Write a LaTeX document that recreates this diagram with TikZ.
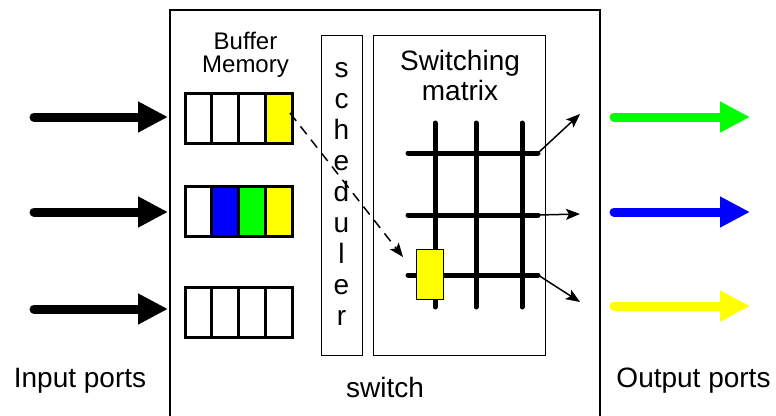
\documentclass[tikz,border=0pt]{standalone}
\usepackage{fontspec}
\setmainfont{Liberation Sans}
\usetikzlibrary{arrows.meta}
\definecolor{pgreen}{RGB}{0,255,0}
\definecolor{pblue}{RGB}{0,0,255}
\definecolor{pyellow}{RGB}{255,255,0}
\tikzset{
  bigtxt/.style={font=\fontsize{28}{30}\selectfont, inner sep=0pt, anchor=base},
  midtxt/.style={font=\fontsize{24}{26}\selectfont, inner sep=0pt, anchor=base},
  cell/.style={draw, line width=3pt, minimum width=26.75pt, minimum height=50pt, inner sep=0pt},
  thinbox/.style={draw, line width=1pt, inner sep=0pt},
  fatarrow/.style={line width=9pt, line cap=round, -{Triangle[length=30pt,width=29pt]}},
  gridline/.style={line width=5pt, line cap=round},
  smallarrow/.style={line width=1.5pt, -{Stealth[length=14pt,width=11pt,inset=3pt]}},
}
\begin{document}
\begin{tikzpicture}[x=1pt,y=-1pt]
\fill[white] (0,0) rectangle (776,415);
\useasboundingbox (0,0) rectangle (776,415);

% switch outline
\coordinate (swbl) at (170,416);
\coordinate (swtl) at (170,10);
\coordinate (swtr) at (600,10);
\coordinate (swbr) at (600,416);
\draw[line width=1.5pt] (swbl) -- (swtl) -- (swtr) -- (swbr);

% input arrows
\foreach \y [count=\i] in {117,212,309} {
  \coordinate (ins\i) at (34,\y);
  \coordinate (ine\i) at (168,\y);
  \draw[fatarrow, black] (ins\i) -- (ine\i);
}
% output arrows
\foreach \y/\c [count=\i] in {117/pgreen,212/pblue,306/pyellow} {
  \coordinate (outs\i) at (614,\y);
  \coordinate (oute\i) at (750,\y);
  \draw[fatarrow, draw=\c, fill=\c] (outs\i) -- (oute\i);
}

% labels
\node[bigtxt] (inlbl) at (80,387) {Input ports};
\node[bigtxt] (outlbl) at (693.5,387) {Output ports};
\node[bigtxt] (swlbl) at (385,397) {switch};
\node[midtxt] (buf1) at (245.5,49) {Buffer};
\node[midtxt] (buf2) at (245.5,72) {Memory};

% buffers
\foreach \yc [count=\r] in {118,211,312} {
  \foreach \i in {1,...,4} {
    \node[cell] (b\r c\i) at ({185+26.75*(\i-0.5)},\yc) {};
  }
}
\node[cell, fill=pyellow] at (b1c4) {};
\node[cell, fill=pblue] at (b2c2) {};
\node[cell, fill=pgreen] at (b2c3) {};
\node[cell, fill=pyellow] at (b2c4) {};

% scheduler
\node[thinbox, minimum width=41pt, minimum height=320pt] (sched) at (341.5,195) {};
\foreach \ch [count=\k] in {s,c,h,e,d,u,l,e,r} {
  \node[bigtxt] (sl\k) at (341.5,{77+31*(\k-1)}) {\ch};
}

% switching matrix
\node[thinbox, minimum width=172pt, minimum height=320pt] (mat) at (459,195) {};
\node[bigtxt] (mt1) at (460,70) {Switching};
\node[bigtxt] (mt2) at (460,100) {matrix};

\foreach \x [count=\i] in {435,476,522} {
  \coordinate (vt\i) at (\x,123);
  \coordinate (vb\i) at (\x,307);
  \draw[gridline] (vt\i) -- (vb\i);
}
\foreach \y [count=\i] in {153,215,275} {
  \coordinate (hl\i) at (408,\y);
  \coordinate (hr\i) at (538,\y);
  \draw[gridline] (hl\i) -- (hr\i);
}
\node[thinbox, fill=pyellow, minimum width=27pt, minimum height=50pt] (ycell) at (429.5,274) {};

% small output arrows
\coordinate (sa1) at (580,114);
\coordinate (sa2) at (580,214);
\coordinate (sa3) at (580,302);
\draw[smallarrow] (hr1) -- (sa1);
\draw[smallarrow] (hr2) -- (sa2);
\draw[smallarrow] (hr3) -- (sa3);

% dashed arrow
\coordinate (dstart) at (290,113);
\coordinate (dend) at (403,257);
\draw[smallarrow, dash pattern=on 10pt off 7pt] (dstart) -- (dend);
\end{tikzpicture}
\end{document}
